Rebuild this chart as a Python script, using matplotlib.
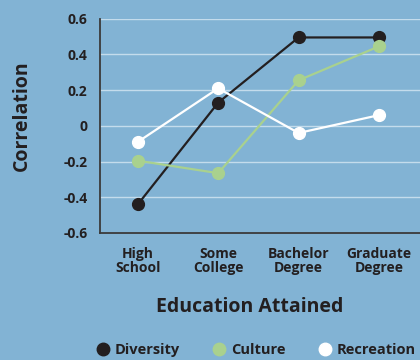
import matplotlib
matplotlib.use('Agg')
import matplotlib.pyplot as plt
from matplotlib.lines import Line2D

plt.rcParams['font.family'] = ['Open Sans', 'DejaVu Sans']
plt.rcParams['font.weight'] = 'bold'

# education levels and correlation per activity
levels = ['High\nSchool', 'Some\nCollege', 'Bachelor\nDegree', 'Graduate\nDegree']
diversity = [-0.44, 0.13, 0.495, 0.495]
culture = [-0.195, -0.265, 0.255, 0.445]
recreation = [-0.09, 0.21, -0.04, 0.06]

yticks = [-0.6, -0.4, -0.2, 0, 0.2, 0.4, 0.6]
ytick_labels = ['-0.6', '-0.4', '-0.2', '0', '0.2', '0.4', '0.6']

bg = '#82b3d4'
dark = '#231f20'
green = '#a9d18e'
white = '#ffffff'
text_col = '#231f20'

fig = plt.figure(figsize=(4.2, 3.6), dpi=100, facecolor=bg)
ax = fig.add_axes([100/420, 127/360, 320/420, 214.3/360])
ax.set_facecolor(bg)

x = range(len(levels))
series = [(diversity, dark, 'Diversity'), (culture, green, 'Culture'), (recreation, white, 'Recreation')]
for vals, col, name in series:
    ax.plot(x, vals, color=col, lw=1.6, marker='o', ms=8.5, mec=col, mfc=col, zorder=3, clip_on=False)

ax.set_ylim(-0.6, 0.6)
ax.set_xlim(-0.47, 3.51)
ax.set_yticks(yticks)
ax.set_yticklabels(ytick_labels)
ax.set_xticks(list(x))
ax.set_xticklabels(levels, linespacing=1.0)
ax.tick_params(length=0, labelsize=10, labelcolor=text_col)
ax.tick_params(axis='y', pad=9)
ax.tick_params(axis='x', pad=10)

ax.grid(axis='y', color='#c4dcec', lw=1.0, zorder=0)
for s in ['top', 'right']:
    ax.spines[s].set_visible(False)
for s in ['left', 'bottom']:
    ax.spines[s].set_color('#3a3a3a')
    ax.spines[s].set_linewidth(1.3)

fig.text(22/420, 1 - 116/360, 'Correlation', rotation=90, ha='center', va='center',
         fontsize=14, fontweight='bold', color=text_col)
fig.text(250/420, 1 - 307/360, 'Education Attained', ha='center', va='center',
         fontsize=14, fontweight='bold', color=text_col)

handles = [Line2D([], [], ls='none', marker='o', ms=9, mfc=c, mec=c, label=n) for _, c, n in series]
leg = fig.legend(handles=handles, loc='center', bbox_to_anchor=(255/420, 1 - 350/360), ncol=3,
                 frameon=False, handletextpad=0.2, columnspacing=2.1, handlelength=1.2,
                 prop={'size': 10.5, 'weight': 'bold'})
for t in leg.get_texts():
    t.set_color(text_col)

fig.savefig('out.png', dpi=100, facecolor=bg)
